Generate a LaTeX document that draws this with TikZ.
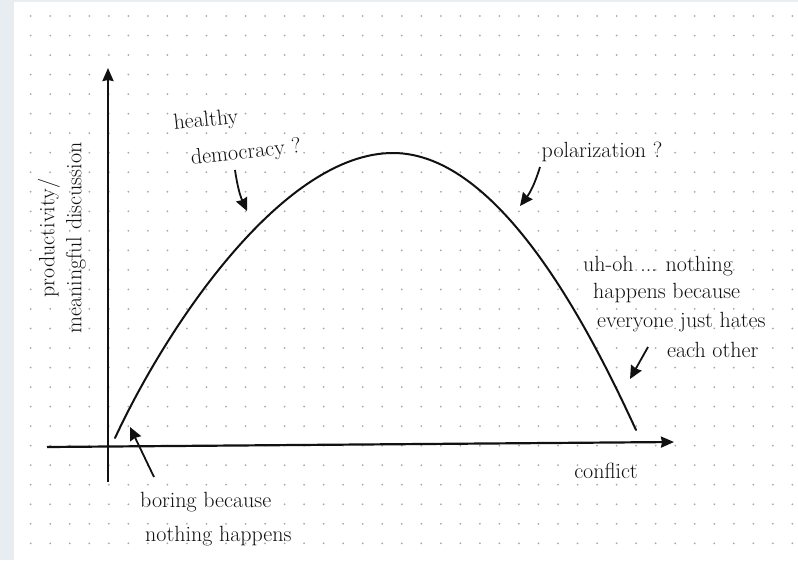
\documentclass[tikz,border=0pt]{standalone}
\usepackage{amsmath}
\usepackage{tikz}
\usetikzlibrary{arrows.meta}

\definecolor{frame}{HTML}{E8EDF1}
\definecolor{griddot}{HTML}{A8A8A8}
\definecolor{ink}{HTML}{111111}

\tikzset{
  hand/.style={font=\fontsize{22}{27}\selectfont, inner sep=0pt, text=ink},
  axis/.style={draw=ink, line width=2.2pt, -{Stealth[length=13pt,width=11pt,inset=1pt]}},
  pointer/.style={draw=ink, line width=1.8pt, -{Stealth[length=13pt,width=12pt,inset=1pt]}},
  curve/.style={draw=ink, line width=2pt, line cap=round}
}

\begin{document}
\begin{tikzpicture}[x=1pt,y=-1pt]
            \useasboundingbox (0,0) rectangle (798,560);
            \fill[frame] (0,0) rectangle (798,560);
            \fill[white] (14,2) rectangle (798,560);

            \foreach \i in {0,...,39}{
                \foreach \j in {0,...,27}{
                    \fill[griddot] (30.7+19.53*\i,16+19.53*\j) circle (1pt);
                }
            }

            \coordinate (o1) at (108,482);
            \coordinate (y1) at (108,68);
            \coordinate (o2) at (47,447);
            \coordinate (x1) at (674,442);
            \coordinate (c0) at (115,438);
            \coordinate (cp) at (393,153);
            \coordinate (c1) at (636,430);

            \draw[axis] (o1)--(y1);
            \draw[axis] (o2)--(x1);

            % the hump
            \draw[curve] (c0) .. controls (170,320) and (285,153) .. (cp)
                              .. controls (500,153) and (590,330) .. (c1);

            \node[hand, rotate=90, align=center] (ylab) at (62,238) {productivity/\\meaningful discussion};
            \node[hand] (xlab) at (606,471) {conflict};

            \node[hand, rotate=6] (hd1) at (206,121) {healthy};
            \node[hand, rotate=6] (hd2) at (246,153) {democracy ?};
            \node[hand] (pol) at (602,152) {polarization ?};

            \node[hand, anchor=west] (uh1) at (583,266) {uh-oh ... nothing};
            \node[hand, anchor=west] (uh2) at (593,293) {happens because};
            \node[hand, anchor=west] (uh3) at (597,322) {everyone just hates};
            \node[hand, anchor=west] (uh4) at (667,350) {each other};

            \node[hand, anchor=west] (b1) at (140,502) {boring because};
            \node[hand, anchor=west] (b2) at (145,536) {nothing happens};

            \coordinate (t1) at (235,170);
            \coordinate (h1) at (247,211);
            \coordinate (t2) at (540,167);
            \coordinate (h2) at (520,206);
            \coordinate (t3) at (648,347);
            \coordinate (h3) at (630,379);
            \coordinate (t4) at (154,477);
            \coordinate (h4) at (130,427);

            \draw[pointer] (t1) to[bend right=8] (h1);
            \draw[pointer] (t2) to[bend left=10] (h2);
            \draw[pointer] (t3)--(h3);
            \draw[pointer] (t4)--(h4);
        \end{tikzpicture}
\end{document}
